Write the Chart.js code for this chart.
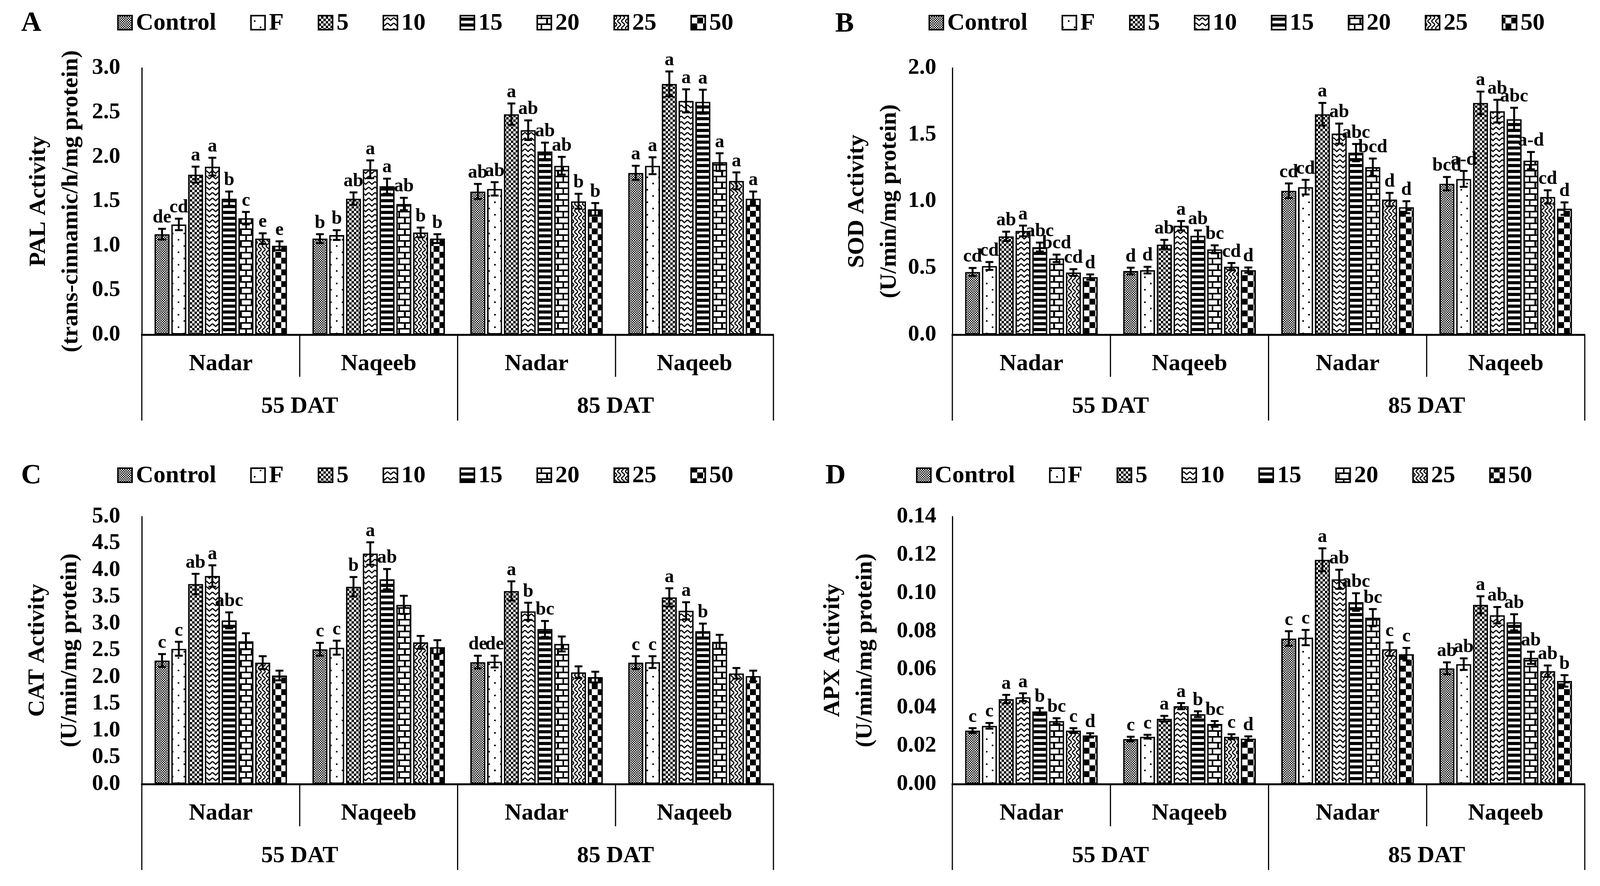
<!DOCTYPE html>
<html>
<head>
<meta charset="utf-8">
<title>PAL, SOD, CAT and APX activity</title>
<script src="https://cdn.jsdelivr.net/npm/chart.js@4.4.1/dist/chart.umd.min.js"></script>
<style>
  html, body { margin: 0; padding: 0; background: #fff; }
  body { width: 4109px; height: 2269px; position: relative; overflow: hidden; }
  canvas { position: absolute; }
</style>
</head>
<body>
<canvas id="panelA" width="2054" height="1135" style="left:0px;top:0px"></canvas>
<canvas id="panelB" width="2055" height="1135" style="left:2054px;top:0px"></canvas>
<canvas id="panelC" width="2054" height="1134" style="left:0px;top:1135px"></canvas>
<canvas id="panelD" width="2055" height="1134" style="left:2054px;top:1135px"></canvas>
<script>
// Categories
const treatments = ['Control', 'F', '5', '10', '15', '20', '25', '50'];
const cultivars = ['Nadar', 'Naqeeb', 'Nadar', 'Naqeeb'];
const stages = ['55 DAT', '85 DAT'];

// One row per treatment, columns: Nadar 55, Naqeeb 55, Nadar 85, Naqeeb 85
const palMean = [
  [1.13, 1.08, 1.61, 1.82],
  [1.24, 1.12, 1.64, 1.90],
  [1.80, 1.53, 2.48, 2.82],
  [1.89, 1.86, 2.30, 2.63],
  [1.53, 1.67, 2.06, 2.62],
  [1.31, 1.47, 1.90, 1.94],
  [1.08, 1.15, 1.50, 1.73],
  [1.00, 1.08, 1.41, 1.53]
];
const palErr = [
  [0.06, 0.05, 0.085, 0.08],
  [0.065, 0.055, 0.075, 0.095],
  [0.09, 0.07, 0.12, 0.14],
  [0.10, 0.10, 0.11, 0.13],
  [0.08, 0.085, 0.10, 0.135],
  [0.07, 0.07, 0.10, 0.10],
  [0.06, 0.055, 0.085, 0.095],
  [0.05, 0.05, 0.07, 0.08]
];
const palLetters = [
  ['de', 'b', 'ab', 'a'],
  ['cd', 'b', 'ab', 'a'],
  ['a', 'ab', 'a', 'a'],
  ['a', 'a', 'ab', 'a'],
  ['b', 'a', 'ab', 'a'],
  ['c', 'ab', 'ab', 'a'],
  ['e', 'b', 'b', 'a'],
  ['e', 'b', 'b', 'a']
];

const sodMean = [
  [0.47, 0.477, 1.079, 1.132],
  [0.515, 0.484, 1.106, 1.168],
  [0.737, 0.676, 1.653, 1.738],
  [0.778, 0.817, 1.508, 1.676],
  [0.657, 0.742, 1.365, 1.616],
  [0.572, 0.64, 1.256, 1.305],
  [0.466, 0.51, 1.013, 1.033],
  [0.432, 0.484, 0.956, 0.945]
];
const sodErr = [
  [0.03, 0.025, 0.055, 0.05],
  [0.03, 0.025, 0.055, 0.06],
  [0.035, 0.035, 0.085, 0.085],
  [0.04, 0.035, 0.075, 0.085],
  [0.033, 0.04, 0.065, 0.085],
  [0.028, 0.03, 0.065, 0.065],
  [0.025, 0.027, 0.05, 0.05],
  [0.02, 0.02, 0.045, 0.047]
];
const sodLetters = [
  ['cd', 'd', 'cd', 'bcd'],
  ['cd', 'd', 'cd', 'a-d'],
  ['ab', 'ab', 'a', 'a'],
  ['a', 'a', 'ab', 'ab'],
  ['abc', 'ab', 'abc', 'abc'],
  ['bcd', 'bc', 'bcd', 'a-d'],
  ['cd', 'cd', 'd', 'cd'],
  ['d', 'd', 'd', 'd']
];

const catMean = [
  [2.31, 2.52, 2.28, 2.27],
  [2.53, 2.55, 2.29, 2.28],
  [3.74, 3.69, 3.61, 3.49],
  [3.89, 4.31, 3.23, 3.24],
  [3.06, 3.83, 2.90, 2.86],
  [2.67, 3.35, 2.62, 2.66],
  [2.27, 2.65, 2.09, 2.07],
  [2.03, 2.56, 2.00, 2.02]
];
const catErr = [
  [0.12, 0.12, 0.12, 0.12],
  [0.13, 0.13, 0.11, 0.11],
  [0.19, 0.18, 0.18, 0.17],
  [0.20, 0.21, 0.16, 0.16],
  [0.15, 0.19, 0.15, 0.14],
  [0.15, 0.17, 0.14, 0.13],
  [0.12, 0.12, 0.11, 0.10],
  [0.09, 0.13, 0.10, 0.10]
];
const catLetters = [
  ['c', 'c', 'de', 'c'],
  ['c', 'c', 'de', 'c'],
  ['ab', 'b', 'a', 'a'],
  ['a', 'a', 'b', 'a'],
  ['abc', 'ab', 'bc', 'b'],
  ['', '', '', ''],
  ['', '', '', ''],
  ['', '', '', '']
];

const apxMean = [
  [0.028, 0.0236, 0.0762, 0.0606],
  [0.0305, 0.0248, 0.0767, 0.0628],
  [0.0445, 0.0342, 0.1174, 0.0938],
  [0.0455, 0.0408, 0.1072, 0.0884],
  [0.038, 0.0366, 0.0953, 0.0847],
  [0.033, 0.0315, 0.0871, 0.0661],
  [0.028, 0.0248, 0.0706, 0.0591],
  [0.0255, 0.0238, 0.068, 0.054]
];
const apxErr = [
  [0.0013, 0.0012, 0.0038, 0.0031],
  [0.0015, 0.001, 0.004, 0.003],
  [0.0022, 0.0015, 0.006, 0.0045],
  [0.002, 0.0016, 0.005, 0.0043],
  [0.0018, 0.0015, 0.0046, 0.0042],
  [0.0015, 0.0015, 0.0045, 0.0032],
  [0.0013, 0.0013, 0.0035, 0.003],
  [0.0011, 0.0012, 0.0033, 0.003]
];
const apxLetters = [
  ['c', 'c', 'c', 'ab'],
  ['c', 'c', 'c', 'ab'],
  ['a', 'a', 'a', 'a'],
  ['a', 'a', 'ab', 'ab'],
  ['b', 'b', 'abc', 'ab'],
  ['bc', 'bc', 'bc', 'ab'],
  ['c', 'c', 'c', 'ab'],
  ['d', 'd', 'c', 'b']
];

// Y axis ticks
const palTicks = { max: 3.0, step: 0.5, decimals: 1 };
const sodTicks = { max: 2.0, step: 0.5, decimals: 1 };
const catTicks = { max: 5.0, step: 0.5, decimals: 1 };
const apxTicks = { max: 0.14, step: 0.02, decimals: 2 };

const FONT = '"Liberation Serif", "Times New Roman", serif';

// Black and white fills, one per treatment
function makePattern(kind) {
  const c = document.createElement('canvas');
  const g = c.getContext('2d');
  const size = { fine: [6, 6], dots: [30, 32], check: [12, 12], wave: [16, 14],
                 stripe: [4, 15], brick: [28, 30], zig: [10, 18], bigcheck: [30, 30] }[kind];
  c.width = size[0];
  c.height = size[1];
  g.fillStyle = '#fff';
  g.fillRect(0, 0, c.width, c.height);
  g.fillStyle = '#000';
  g.strokeStyle = '#000';
  switch (kind) {
    case 'fine':
      g.fillRect(0, 0, 3, 3); g.fillRect(3, 3, 3, 3);
      break;
    case 'dots':
      g.fillRect(5, 4, 4, 4); g.fillRect(20, 20, 4, 4);
      break;
    case 'check':
      g.fillRect(0, 0, 6, 6); g.fillRect(6, 6, 6, 6);
      break;
    case 'wave':
      g.lineWidth = 3;
      g.beginPath(); g.moveTo(0, 3); g.lineTo(8, 10); g.lineTo(16, 3); g.stroke();
      break;
    case 'stripe':
      g.fillRect(0, 0, 4, 8);
      break;
    case 'brick':
      g.fillRect(0, 0, 28, 4); g.fillRect(0, 15, 28, 4);
      g.fillRect(12, 0, 4, 15); g.fillRect(0, 15, 3, 15); g.fillRect(26, 15, 2, 15);
      break;
    case 'zig':
      g.lineWidth = 3;
      g.beginPath(); g.moveTo(0, 0); g.lineTo(10, 9); g.lineTo(0, 18); g.stroke();
      break;
    case 'bigcheck':
      g.fillRect(0, 0, 15, 15); g.fillRect(15, 15, 15, 15);
      break;
  }
  return g.createPattern(c, 'repeat');
}
const fills = ['fine', 'dots', 'check', 'wave', 'stripe', 'brick', 'zig', 'bigcheck'].map(makePattern);

// Error bars and significance letters
const errorBarPlugin = {
  id: 'errorBars',
  afterDatasetsDraw(chart) {
    const ctx = chart.ctx;
    const y = chart.scales.y;
    chart.data.datasets.forEach((ds, i) => {
      chart.getDatasetMeta(i).data.forEach((bar, j) => {
        const top = y.getPixelForValue(ds.data[j] + ds.errors[j]);
        const bot = y.getPixelForValue(ds.data[j] - ds.errors[j]);
        ctx.save();
        ctx.strokeStyle = '#000';
        ctx.lineWidth = 5;
        ctx.beginPath();
        ctx.moveTo(bar.x, top); ctx.lineTo(bar.x, bot);
        ctx.moveTo(bar.x - 10, top); ctx.lineTo(bar.x + 10, top);
        ctx.moveTo(bar.x - 10, bot); ctx.lineTo(bar.x + 10, bot);
        ctx.stroke();
        ctx.fillStyle = '#000';
        ctx.font = 'bold 48px ' + FONT;
        ctx.textAlign = 'center';
        ctx.textBaseline = 'alphabetic';
        ctx.fillText(ds.letters[j], bar.x, top - 16);
        ctx.restore();
      });
    });
  }
};

// Second row of the category axis (sampling time) and the dividers
const groupAxisPlugin = {
  id: 'groupAxis',
  afterDraw(chart) {
    const ctx = chart.ctx;
    const x = chart.scales.x;
    const base = chart.chartArea.bottom;
    const half = (x.getPixelForValue(1) - x.getPixelForValue(0)) / 2;
    ctx.save();
    ctx.strokeStyle = '#000';
    ctx.lineWidth = 3;
    for (let k = 0; k <= cultivars.length; k++) {
      const px = x.getPixelForValue(0) - half + k * 2 * half;
      ctx.beginPath();
      ctx.moveTo(px, base);
      ctx.lineTo(px, base + (k % 2 === 0 ? 220 : 108));
      ctx.stroke();
    }
    ctx.fillStyle = '#000';
    ctx.font = 'bold 60px ' + FONT;
    ctx.textAlign = 'center';
    ctx.textBaseline = 'middle';
    stages.forEach((s, i) => {
      const cx = (x.getPixelForValue(2 * i) + x.getPixelForValue(2 * i + 1)) / 2;
      ctx.fillText(s, cx, base + 184);
    });
    ctx.restore();
  }
};

// Legend with patterned boxes, plus the panel letter
const patternLegendPlugin = {
  id: 'patternLegend',
  afterDraw(chart, args, opts) {
    const ctx = chart.ctx;
    ctx.save();
    ctx.font = 'bold 62px ' + FONT;
    ctx.textBaseline = 'middle';
    ctx.textAlign = 'left';
    let px = opts.x;
    chart.data.datasets.forEach(ds => {
      ctx.fillStyle = ds.backgroundColor;
      ctx.fillRect(px, opts.y - 18, 36, 36);
      ctx.strokeStyle = '#000';
      ctx.lineWidth = 4;
      ctx.strokeRect(px, opts.y - 18, 36, 36);
      ctx.fillStyle = '#000';
      ctx.fillText(ds.label, px + 46, opts.y + 2);
      px += 46 + ctx.measureText(ds.label).width + 89;
    });
    ctx.font = 'bold 72px ' + FONT;
    ctx.textAlign = 'center';
    ctx.fillText(opts.letter, opts.letterX, opts.letterY);
    ctx.restore();
  }
};

function drawPanel(p) {
  const datasets = treatments.map((t, i) => ({
    label: t,
    data: p.mean[i],
    errors: p.err[i],
    letters: p.letters[i],
    backgroundColor: fills[i],
    borderColor: '#000',
    borderWidth: 4,
    borderSkipped: false,
    categoryPercentage: 0.85,
    barPercentage: 0.9
  }));
  new Chart(document.getElementById(p.id), {
    type: 'bar',
    data: { labels: cultivars, datasets: datasets },
    plugins: [errorBarPlugin, groupAxisPlugin, patternLegendPlugin],
    options: {
      responsive: false,
      animation: false,
      devicePixelRatio: 1,
      layout: { padding: { top: p.top, right: p.right, bottom: 0, left: 0 } },
      plugins: {
        legend: { display: false },
        tooltip: { enabled: false },
        patternLegend: { x: p.legendX, y: p.legendY, letter: p.letter, letterX: p.letterX, letterY: p.letterY }
      },
      scales: {
        x: {
          grid: { display: false, drawTicks: false },
          border: { display: true, color: '#000', width: 5 },
          ticks: { color: '#000', padding: 39, maxRotation: 0, font: { family: FONT, size: 60, weight: 'bold' } },
          afterFit(scale) { scale.height = p.xHeight; }
        },
        y: {
          min: 0,
          max: p.ticks.max,
          grid: { display: false, drawTicks: false },
          border: { display: true, color: '#000', width: 3 },
          ticks: {
            stepSize: p.ticks.step,
            autoSkip: false,
            color: '#000',
            padding: p.tickPad,
            font: { family: FONT, size: 58, weight: 'bold' },
            callback: v => v.toFixed(p.ticks.decimals)
          },
          title: {
            display: true,
            text: p.title,
            color: '#000',
            font: { family: FONT, size: 60, weight: 'bold', lineHeight: 1.38 },
            padding: { top: p.titlePad, bottom: 0 }
          },
          afterFit(scale) { scale.width = p.yWidth; }
        }
      }
    }
  });
}

drawPanel({ id: 'panelA', letter: 'A', mean: palMean, err: palErr, letters: palLetters, ticks: palTicks,
  title: ['PAL Activity', '(trans-cinnamic/h/mg protein)'],
  yWidth: 363, right: 74, top: 174, xHeight: 278, tickPad: 55, titlePad: 58,
  legendX: 302, legendY: 58, letterX: 80, letterY: 60 });
drawPanel({ id: 'panelB', letter: 'B', mean: sodMean, err: sodErr, letters: sodLetters, ticks: sodTicks,
  title: ['SOD Activity', '(U/min/mg protein)'],
  yWidth: 384, right: 52, top: 174, xHeight: 278, tickPad: 41, titlePad: 99,
  legendX: 325, legendY: 58, letterX: 108, letterY: 62 });
drawPanel({ id: 'panelC', letter: 'C', mean: catMean, err: catErr, letters: catLetters, ticks: catTicks,
  title: ['CAT Activity', '(U/min/mg protein)'],
  yWidth: 363, right: 74, top: 188, xHeight: 261, tickPad: 55, titlePad: 55,
  legendX: 302, legendY: 82, letterX: 80, letterY: 84 });
drawPanel({ id: 'panelD', letter: 'D', mean: apxMean, err: apxErr, letters: apxLetters, ticks: apxTicks,
  title: ['APX Activity', '(U/min/mg protein)'],
  yWidth: 384, right: 52, top: 188, xHeight: 261, tickPad: 41, titlePad: 37,
  legendX: 293, legendY: 82, letterX: 85, letterY: 84 });
</script>
</body>
</html>
